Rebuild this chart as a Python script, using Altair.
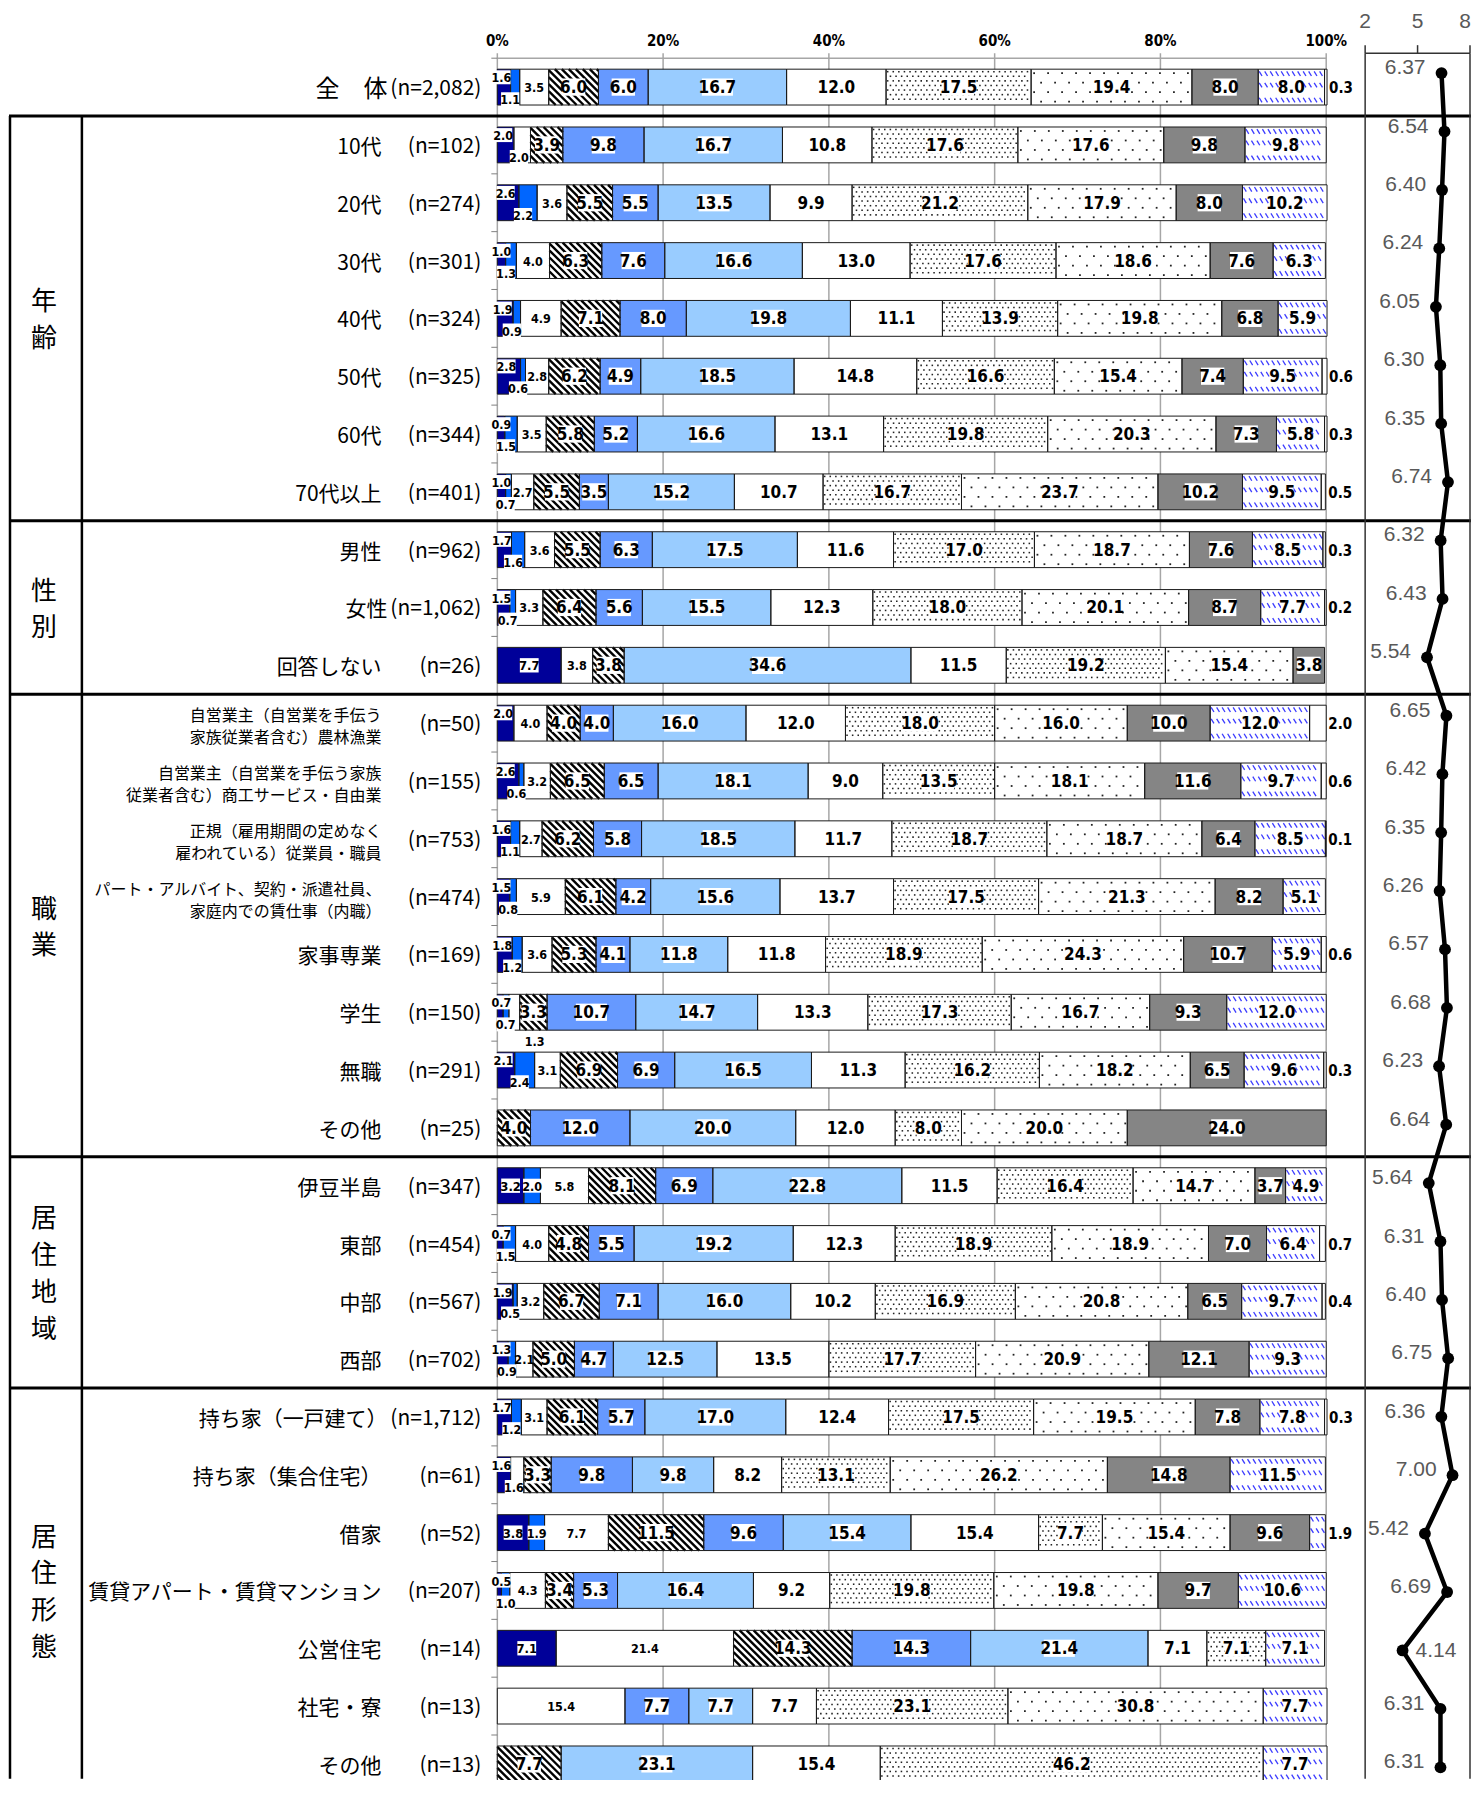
import altair as alt
import pandas as pd

# ---------------- data ----------------
row_names = [
    "全　体", "10代", "20代", "30代", "40代", "50代", "60代", "70代以上",
    "男性", "女性", "回答しない",
    "自営業主（自営業を手伝う\n家族従業者含む）農林漁業",
    "自営業主（自営業を手伝う家族\n従業者含む）商工サービス・自由業",
    "正規（雇用期間の定めなく\n雇われている）従業員・職員",
    "パート・アルバイト、契約・派遣社員、\n家庭内での賃仕事（内職）",
    "家事専業", "学生", "無職", "その他",
    "伊豆半島", "東部", "中部", "西部",
    "持ち家（一戸建て）", "持ち家（集合住宅）", "借家", "賃貸アパート・賃貸マンション",
    "公営住宅", "社宅・寮", "その他",
]
n_labels = [
    "(n=2,082)", "(n=102)", "(n=274)", "(n=301)", "(n=324)", "(n=325)", "(n=344)", "(n=401)",
    "(n=962)", "(n=1,062)", "(n=26)",
    "(n=50)", "(n=155)", "(n=753)", "(n=474)", "(n=169)", "(n=150)", "(n=291)", "(n=25)",
    "(n=347)", "(n=454)", "(n=567)", "(n=702)",
    "(n=1,712)", "(n=61)", "(n=52)", "(n=207)", "(n=14)", "(n=13)", "(n=13)",
]
combined_rows = [0, 9, 23]
group_names = ["年\n齢", "性\n別", "職\n業", "居\n住\n地\n域", "居\n住\n形\n態"]
group_sizes = [7, 3, 8, 4, 7]
score_cats = ["0", "1", "2", "3", "4", "5", "6", "7", "8", "9", "10", "無回答"]

vals_total = [[1.6, 1.1, 3.5, 6.0, 6.0, 16.7, 12.0, 17.5, 19.4, 8.0, 8.0, 0.3]]
vals_age = [
    [2.0, 0.0, 2.0, 3.9, 9.8, 16.7, 10.8, 17.6, 17.6, 9.8, 9.8, 0.0],
    [2.6, 2.2, 3.6, 5.5, 5.5, 13.5, 9.9, 21.2, 17.9, 8.0, 10.2, 0.0],
    [1.0, 1.3, 4.0, 6.3, 7.6, 16.6, 13.0, 17.6, 18.6, 7.6, 6.3, 0.0],
    [1.9, 0.9, 4.9, 7.1, 8.0, 19.8, 11.1, 13.9, 19.8, 6.8, 5.9, 0.0],
    [2.8, 0.6, 2.8, 6.2, 4.9, 18.5, 14.8, 16.6, 15.4, 7.4, 9.5, 0.6],
    [0.9, 1.5, 3.5, 5.8, 5.2, 16.6, 13.1, 19.8, 20.3, 7.3, 5.8, 0.3],
    [1.0, 0.7, 2.7, 5.5, 3.5, 15.2, 10.7, 16.7, 23.7, 10.2, 9.5, 0.5],
]
vals_sex = [
    [1.7, 1.6, 3.6, 5.5, 6.3, 17.5, 11.6, 17.0, 18.7, 7.6, 8.5, 0.3],
    [1.5, 0.7, 3.3, 6.4, 5.6, 15.5, 12.3, 18.0, 20.1, 8.7, 7.7, 0.2],
    [7.7, 0.0, 3.8, 3.8, 0.0, 34.6, 11.5, 19.2, 15.4, 3.8, 0.0, 0.0],
]
vals_job = [
    [2.0, 0.0, 4.0, 4.0, 4.0, 16.0, 12.0, 18.0, 16.0, 10.0, 12.0, 2.0],
    [2.6, 0.6, 3.2, 6.5, 6.5, 18.1, 9.0, 13.5, 18.1, 11.6, 9.7, 0.6],
    [1.6, 1.1, 2.7, 6.2, 5.8, 18.5, 11.7, 18.7, 18.7, 6.4, 8.5, 0.1],
    [1.5, 0.8, 5.9, 6.1, 4.2, 15.6, 13.7, 17.5, 21.3, 8.2, 5.1, 0.0],
    [1.8, 1.2, 3.6, 5.3, 4.1, 11.8, 11.8, 18.9, 24.3, 10.7, 5.9, 0.6],
    [0.7, 0.7, 1.3, 3.3, 10.7, 14.7, 13.3, 17.3, 16.7, 9.3, 12.0, 0.0],
    [2.1, 2.4, 3.1, 6.9, 6.9, 16.5, 11.3, 16.2, 18.2, 6.5, 9.6, 0.3],
    [0.0, 0.0, 0.0, 4.0, 12.0, 20.0, 12.0, 8.0, 20.0, 24.0, 0.0, 0.0],
]
vals_area = [
    [3.2, 2.0, 5.8, 8.1, 6.9, 22.8, 11.5, 16.4, 14.7, 3.7, 4.9, 0.0],
    [0.7, 1.5, 4.0, 4.8, 5.5, 19.2, 12.3, 18.9, 18.9, 7.0, 6.4, 0.7],
    [1.9, 0.5, 3.2, 6.7, 7.1, 16.0, 10.2, 16.9, 20.8, 6.5, 9.7, 0.4],
    [1.3, 0.9, 2.1, 5.0, 4.7, 12.5, 13.5, 17.7, 20.9, 12.1, 9.3, 0.0],
]
vals_house = [
    [1.7, 1.2, 3.1, 6.1, 5.7, 17.0, 12.4, 17.5, 19.5, 7.8, 7.8, 0.3],
    [1.6, 0.0, 1.6, 3.3, 9.8, 9.8, 8.2, 13.1, 26.2, 14.8, 11.5, 0.0],
    [3.8, 1.9, 7.7, 11.5, 9.6, 15.4, 15.4, 7.7, 15.4, 9.6, 1.9, 0.0],
    [0.5, 1.0, 4.3, 3.4, 5.3, 16.4, 9.2, 19.8, 19.8, 9.7, 10.6, 0.0],
    [7.1, 0.0, 21.4, 14.3, 14.3, 21.4, 7.1, 7.1, 0.0, 0.0, 7.1, 0.0],
    [0.0, 0.0, 15.4, 0.0, 7.7, 7.7, 7.7, 23.1, 30.8, 0.0, 7.7, 0.0],
    [0.0, 0.0, 0.0, 7.7, 0.0, 23.1, 15.4, 46.2, 0.0, 0.0, 7.7, 0.0],
]
means = [6.37, 6.54, 6.40, 6.24, 6.05, 6.30, 6.35, 6.74, 6.32, 6.43, 5.54,
         6.65, 6.42, 6.35, 6.26, 6.57, 6.68, 6.23, 6.64,
         5.64, 6.31, 6.40, 6.75,
         6.36, 7.00, 5.42, 6.69, 4.14, 6.31, 6.31]
pct_ticks = [0, 20, 40, 60, 80, 100]
pct_tick_labels = ["0%", "20%", "40%", "60%", "80%", "100%"]
mean_ticks = [2, 5, 8]

# ---------------- layout / style ----------------
W, H = 1465, 1772
BAR_X0, BAR_K = 490.0, 8.3          # px of 0 %, px per %
MEAN_X2, MEAN_K = 1359.0, 17.5      # px of score 2, px per point
ROW_Y0, ROW_DY = 78.0, 57.9
MROW_Y0, MROW_DY = 64.0, 58.5
HALF = 0.31                          # half bar thickness in rows
BH = 2 * HALF * ROW_DY               # bar thickness, px
JP = "Noto Sans CJK JP"
NUM = "Liberation Sans Narrow, DejaVu Sans Condensed, Liberation Sans, sans-serif"
ARIAL = "Liberation Sans, Arial, sans-serif"
colors = ["#000099", "#0066ff", "#ffffff", "#ffffff", "#6699ff", "#99ccff",
          "#ffffff", "#ffffff", "#ffffff", "#858585", "#ffffff", "#ffffff"]

x_bar = alt.Scale(domain=[-BAR_X0 / BAR_K, (W - BAR_X0) / BAR_K], nice=False, zero=False)
x_mean = alt.Scale(domain=[2 - MEAN_X2 / MEAN_K, 2 + (W - MEAN_X2) / MEAN_K], nice=False, zero=False)
y_bar = alt.Scale(domain=[-ROW_Y0 / ROW_DY, (H - ROW_Y0) / ROW_DY], nice=False, zero=False, reverse=True)
y_mean = alt.Scale(domain=[-MROW_Y0 / MROW_DY, (H - MROW_Y0) / MROW_DY], nice=False, zero=False, reverse=True)


def qx(f, s):
    return alt.X(f, type="quantitative", scale=s, axis=None)


def qy(f, s):
    return alt.Y(f, type="quantitative", scale=s, axis=None)


def frange(a, b, step):
    out = []
    v = a
    while v < b:
        out.append(v)
        v += step
    return out


# ---------------- derived tables ----------------
all_rows = vals_total + vals_age + vals_sex + vals_job + vals_area + vals_house
seg, lab = [], []
hatch, dots_d, dots_s, dashes = [], [], [], []
for r, vals in enumerate(all_rows):
    cum = 0.0
    first_inside = vals[0] >= 3
    for c, v in enumerate(vals):
        x0, x1 = cum, cum + v
        cum = x1
        if v <= 0:
            continue
        seg.append(dict(row=r, cat=score_cats[c], x0=x0, x1=x1))
        top = r - HALF
        w = v * BAR_K
        # ---- fill patterns (derived from the segment extent) ----
        if c == 3:
            for a in frange(-BH, w, 7.0):
                t0 = max(0.0, -a / BH)
                t1 = min(1.0, (w - a) / BH)
                if t1 > t0:
                    hatch.append(dict(xa=x0 + (a + t0 * BH) / BAR_K, ya=top + t0 * BH / ROW_DY,
                                      xb=x0 + (a + t1 * BH) / BAR_K, yb=top + t1 * BH / ROW_DY))
        elif c == 7:
            for j, py in enumerate(frange(2.5, BH - 1.5, 4.6)):
                for px in frange(1.6 + (2.8 if j % 2 else 0.0), w - 1.2, 5.6):
                    dots_d.append(dict(x=x0 + px / BAR_K, y=top + py / ROW_DY))
        elif c == 8:
            for j, py in enumerate(frange(4.0, BH - 2.0, 9.5)):
                for px in frange(3.0 + (7.0 if j % 2 else 0.0), w - 1.5, 14.0):
                    dots_s.append(dict(x=x0 + px / BAR_K, y=top + py / ROW_DY))
        elif c == 10:
            for py in (4.5, BH / 2 - 2, BH - 5.0):
                for px in frange(1.0, w - 3.5, 5.5):
                    dashes.append(dict(xa=x0 + px / BAR_K, ya=top + (py - 2.3) / ROW_DY,
                                       xb=x0 + (px + 2.8) / BAR_K, yb=top + (py + 2.3) / ROW_DY))
        # ---- value labels ----
        mid = (x0 + x1) / 2
        t = f"{v:.1f}"
        d = dict(row=r, text=t, lx=mid, ly=r, fs=17, box=False, align="center")
        if c == 11 or (c == 10 and v < 2.5):
            d.update(lx=max(x1, 100) + 0.25, fs=15, align="left")
        elif c == 0:
            if first_inside:
                d.update(fs=13, box=True)
            else:
                d.update(lx=max(mid - 0.3, 0.5), ly=r - 0.17, fs=12.5, box=True)
        elif c == 1:
            if v >= 1.9 and first_inside:
                d.update(fs=12.5, box=True)
            else:
                d.update(lx=max(mid - 0.6, 1.0), ly=r + 0.21, fs=12.5, box=True)
        elif c == 2:
            if v < 1.5:
                d.update(lx=x1 + 0.6, ly=r + 0.5, fs=12.5, align="left")
            elif v <= 2.0:
                d.update(lx=mid - 0.4, ly=r + 0.21, fs=12.5, box=True)
            else:
                d.update(fs=12.5)
        else:
            d.update(box=c != 6)
        lab.append(d)

seg_df = pd.DataFrame(seg)
lab_df = pd.DataFrame(lab)
box_df = lab_df[lab_df["box"]].copy()
tw = box_df["fs"] * (0.456 * (box_df["text"].str.len() - 1) + 0.228) + 4
th = box_df["fs"] * 0.72 + 5
box_df["bx0"] = box_df["lx"] - tw / 2 / BAR_K
box_df["bx1"] = box_df["lx"] + tw / 2 / BAR_K
box_df["by0"] = box_df["ly"] - th / 2 / ROW_DY
box_df["by1"] = box_df["ly"] + th / 2 / ROW_DY

name_df = pd.DataFrame({"row": list(range(len(row_names))), "name": row_names, "n": n_labels})
name_df["fs"] = [24 if i == 0 else 21 for i in range(len(row_names))]
name_df["comb"] = name_df["row"].isin(combined_rows)
name_df["multi"] = name_df["name"].str.contains("\n")

starts = [1]
for s in group_sizes[:-1]:
    starts.append(starts[-1] + s)
grp_df = pd.DataFrame({"g": group_names,
                       "c": [st + (sz - 1) / 2 for st, sz in zip(starts, group_sizes)]})
grp_df["lines"] = grp_df["g"].str.count("\n") + 1
sep_df = pd.DataFrame({"b": [st - 0.5 for st in starts]})
bnd_df = pd.DataFrame({"b": [r - 0.5 for r in range(len(all_rows))]})
vl_df = pd.DataFrame({"b": [starts[0] - 0.5]})

tick_df = pd.DataFrame({"p": pct_ticks, "lab": pct_tick_labels})
span_df = pd.DataFrame({"lo": [pct_ticks[0]], "hi": [pct_ticks[-1]]})
mtick_df = pd.DataFrame({"t": mean_ticks, "lab": [str(t) for t in mean_ticks]})
mspan_df = pd.DataFrame({"lo": [mean_ticks[0]], "hi": [mean_ticks[-1]]})
mean_df = pd.DataFrame({"row": list(range(len(means))), "m": means,
                        "txt": [f"{m:.2f}" for m in means]})

# ---------------- layers ----------------
grid = alt.Chart(tick_df).mark_rule(color="#a6a6a6", strokeWidth=1.5).encode(
    x=qx("p", x_bar), y=alt.value(44), y2=alt.value(H))
axis_line = alt.Chart(span_df).mark_rule(color="#a6a6a6", strokeWidth=1.5).encode(
    x=qx("lo", x_bar), x2="hi", y=alt.value(49))
axis_lab = alt.Chart(tick_df).mark_text(font=NUM, fontWeight="bold", fontSize=15,
                                        baseline="middle", color="black").encode(
    x=qx("p", x_bar), y=alt.value(32), text="lab:N")
row_ticks = alt.Chart(bnd_df).mark_rule(color="#808080", strokeWidth=1).encode(
    x=alt.value(BAR_X0 - 6), x2=alt.value(BAR_X0), y=qy("b", y_bar))

bar_base = alt.Chart(seg_df).transform_calculate(
    yt=f"datum.row - {HALF}", yb=f"datum.row + {HALF}")
bars = bar_base.mark_rect(strokeWidth=0).encode(
    x=qx("x0", x_bar), x2="x1",
    y=qy("yt:Q", y_bar), y2="yb:Q",
    color=alt.Color("cat:N", scale=alt.Scale(domain=score_cats, range=colors), legend=None),
)
outline = bar_base.mark_rect(fillOpacity=0, stroke="#1a1a1a", strokeWidth=1).encode(
    x=qx("x0", x_bar), x2="x1", y=qy("yt:Q", y_bar), y2="yb:Q")

hatch_l = alt.Chart(pd.DataFrame(hatch)).mark_rule(color="black", strokeWidth=2.4).encode(
    x=qx("xa", x_bar), x2="xb", y=qy("ya", y_bar), y2="yb")
dots_d_l = alt.Chart(pd.DataFrame(dots_d)).mark_square(color="#222222", size=2.4, opacity=1).encode(
    x=qx("x", x_bar), y=qy("y", y_bar))
dots_s_l = alt.Chart(pd.DataFrame(dots_s)).mark_square(color="#222222", size=3.2, opacity=1).encode(
    x=qx("x", x_bar), y=qy("y", y_bar))
dash_l = alt.Chart(pd.DataFrame(dashes)).mark_rule(color="#3b3bff", strokeWidth=1.3).encode(
    x=qx("xa", x_bar), x2="xb", y=qy("ya", y_bar), y2="yb")

boxes = alt.Chart(box_df).mark_rect(color="white").encode(
    x=qx("bx0", x_bar), x2="bx1", y=qy("by0", y_bar), y2="by1")
lab_c = alt.Chart(lab_df[lab_df["align"] == "center"]).mark_text(
    font=NUM, fontWeight="bold", align="center", baseline="middle", color="black", dy=1).encode(
    x=qx("lx", x_bar), y=qy("ly", y_bar), text="text:N", size=alt.Size("fs:Q", scale=None))
lab_l = alt.Chart(lab_df[lab_df["align"] == "left"]).mark_text(
    font=NUM, fontWeight="bold", align="left", baseline="middle", color="black", dy=1).encode(
    x=qx("lx", x_bar), y=qy("ly", y_bar), text="text:N", size=alt.Size("fs:Q", scale=None))

names_a = alt.Chart(name_df[~name_df["comb"] & ~name_df["multi"]]).mark_text(
    font=JP, align="right", baseline="middle", dy=3, color="black").encode(
    x=alt.value(374), y=qy("row", y_bar), text="name:N", size=alt.Size("fs:Q", scale=None))
names_m = alt.Chart(name_df[name_df["multi"]]).mark_text(
    font=JP, fontSize=16, align="right", baseline="middle", lineBreak="\n", lineHeight=22,
    dy=-7, color="black").encode(
    x=alt.value(374), y=qy("row", y_bar), text="name:N")
names_b = alt.Chart(name_df[name_df["comb"]]).mark_text(
    font=JP, align="right", baseline="middle", dy=3, color="black").encode(
    x=alt.value(380), y=qy("row", y_bar), text="name:N", size=alt.Size("fs:Q", scale=None))
nlab = alt.Chart(name_df).mark_text(
    font=JP, fontSize=21, align="right", baseline="middle", dy=2, color="black").encode(
    x=alt.value(474), y=qy("row", y_bar), text="n:N")
groups2 = alt.Chart(grp_df[grp_df["lines"] == 2]).mark_text(
    font=JP, fontSize=26, lineBreak="\n", lineHeight=37, align="center", baseline="middle",
    dy=-16, color="black").encode(x=alt.value(36), y=qy("c", y_bar), text="g:N")
groups4 = alt.Chart(grp_df[grp_df["lines"] == 4]).mark_text(
    font=JP, fontSize=26, lineBreak="\n", lineHeight=37, align="center", baseline="middle",
    dy=-53, color="black").encode(x=alt.value(36), y=qy("c", y_bar), text="g:N")

seps = alt.Chart(sep_df).mark_rule(color="black", strokeWidth=3).encode(
    x=alt.value(1), x2=alt.value(W), y=qy("b", y_bar))
vlines = alt.Chart(vl_df).mark_rule(color="black", strokeWidth=2.5).encode(
    x=alt.value(2), y=qy("b", y_bar), y2=alt.value(H))
vlines2 = alt.Chart(vl_df).mark_rule(color="black", strokeWidth=2.5).encode(
    x=alt.value(74), y=qy("b", y_bar), y2=alt.value(H))

m_border = alt.Chart(mtick_df[mtick_df["t"].isin([mean_ticks[0], mean_ticks[-1]])]).mark_rule(
    color="#333333", strokeWidth=1.5).encode(x=qx("t", x_mean), y=alt.value(44), y2=alt.value(H))
m_top = alt.Chart(mspan_df).mark_rule(color="#333333", strokeWidth=1.5).encode(
    x=qx("lo", x_mean), x2="hi", y=alt.value(44))
m_ticks = alt.Chart(mtick_df).mark_rule(color="#333333", strokeWidth=1.5).encode(
    x=qx("t", x_mean), y=alt.value(36), y2=alt.value(44))
m_tlab = alt.Chart(mtick_df[mtick_df["t"] < mean_ticks[-1]]).mark_text(
    font=ARIAL, fontSize=21, color="#595959", baseline="middle").encode(
    x=qx("t", x_mean), y=alt.value(13), text="lab:N")
m_tlab_end = alt.Chart(mtick_df[mtick_df["t"] == mean_ticks[-1]]).mark_text(
    font=ARIAL, fontSize=21, color="#595959", baseline="middle", align="right", dx=1).encode(
    x=qx("t", x_mean), y=alt.value(13), text="lab:N")
m_line = alt.Chart(mean_df).mark_line(color="black", strokeWidth=4.5).encode(
    x=qx("m", x_mean), y=qy("row", y_mean), order="row:Q")
m_pts = alt.Chart(mean_df).mark_circle(color="black", size=140, opacity=1).encode(
    x=qx("m", x_mean), y=qy("row", y_mean))
m_lab_a = alt.Chart(mean_df[mean_df["m"] >= 5]).mark_text(
    font=ARIAL, fontSize=21, color="#595959", align="right", baseline="middle", dx=-16, dy=-5).encode(
    x=qx("m", x_mean), y=qy("row", y_mean), text="txt:N")
m_lab_b = alt.Chart(mean_df[mean_df["m"] < 5]).mark_text(
    font=ARIAL, fontSize=21, color="#595959", align="left", baseline="middle", dx=13, dy=1).encode(
    x=qx("m", x_mean), y=qy("row", y_mean), text="txt:N")

chart = alt.layer(
    grid, axis_line, axis_lab, row_ticks, bars, hatch_l, dots_d_l, dots_s_l, dash_l, outline,
    boxes, lab_c, lab_l,
    names_a, names_m, names_b, nlab, groups2, groups4, seps, vlines, vlines2,
    m_border, m_top, m_ticks, m_tlab, m_tlab_end, m_line, m_pts, m_lab_a, m_lab_b,
).resolve_scale(x="independent", y="independent").properties(
    width=W, height=H, padding=0, autosize=alt.AutoSizeParams(type="none"),
    background="white",
).configure_view(stroke=None)

chart.save("out.html", embed_options={"renderer": "svg", "actions": False})
